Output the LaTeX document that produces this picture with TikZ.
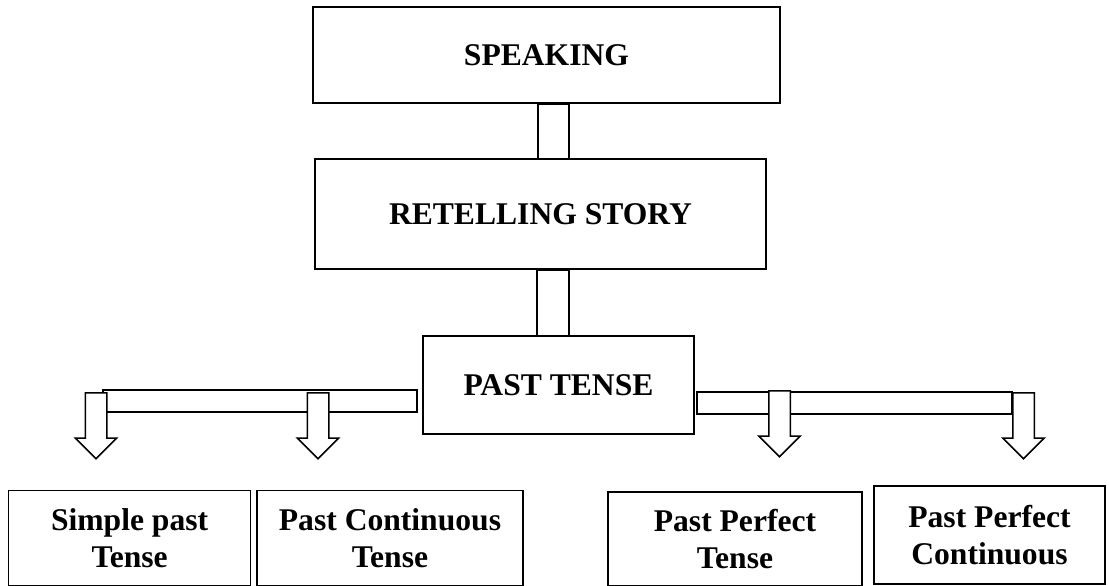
\documentclass[tikz,border=0pt]{standalone}
\usepackage{fontspec}
\setmainfont{Liberation Serif}
\usetikzlibrary{shapes.arrows}
\tikzset{
  box/.style={draw=black, line width=1.5pt, inner sep=0pt, align=center, font=\fontsize{31.6}{37}\selectfont\bfseries},
  bar/.style={draw=black, line width=1.5pt, fill=white},
  downarrow/.style={single arrow, draw=black, line width=1.5pt, fill=white, rotate=-90, minimum width=40pt, single arrow head extend=10pt, minimum height=66pt, inner xsep=0pt, inner ysep=10pt, anchor=tail}
}
\begin{document}
\begin{tikzpicture}[x=1pt, y=-1pt]
\useasboundingbox (0,0) rectangle (1109,586);
\node[box, minimum width=467pt, minimum height=96pt] (speak) at (546.5,55) {SPEAKING};
\node[box, minimum width=451pt, minimum height=110pt] (retell) at (540.5,214) {RETELLING STORY};
\node[box, minimum width=271pt, minimum height=98pt] (past) at (558.5,385) {PAST TENSE};
\draw[bar] (538,0 |- speak.south) rectangle (569,0 |- retell.north);
\draw[bar] (537,0 |- retell.south) rectangle (569,0 |- past.north);
\draw[bar] (103,390) rectangle (417,412);
\draw[bar] (697,392) rectangle (1012,414);
\node[downarrow] (a1) at (96,392) {};
\node[downarrow] (a2) at (318,392) {};
\node[downarrow] (a3) at (779.5,390) {};
\node[downarrow] (a4) at (1023.5,392) {};
\node[box, minimum width=242pt, minimum height=95pt] (simple) at (129.6,538) {Simple past\\Tense};
\node[box, minimum width=266pt, minimum height=95pt] (cont) at (390,538) {Past Continuous\\Tense};
\node[box, minimum width=254pt, minimum height=93.5pt] (perf) at (735,538.7) {Past Perfect\\Tense};
\node[box, minimum width=231pt, minimum height=98pt] (perfcont) at (989.5,535) {Past Perfect\\Continuous};
\end{tikzpicture}
\end{document}
